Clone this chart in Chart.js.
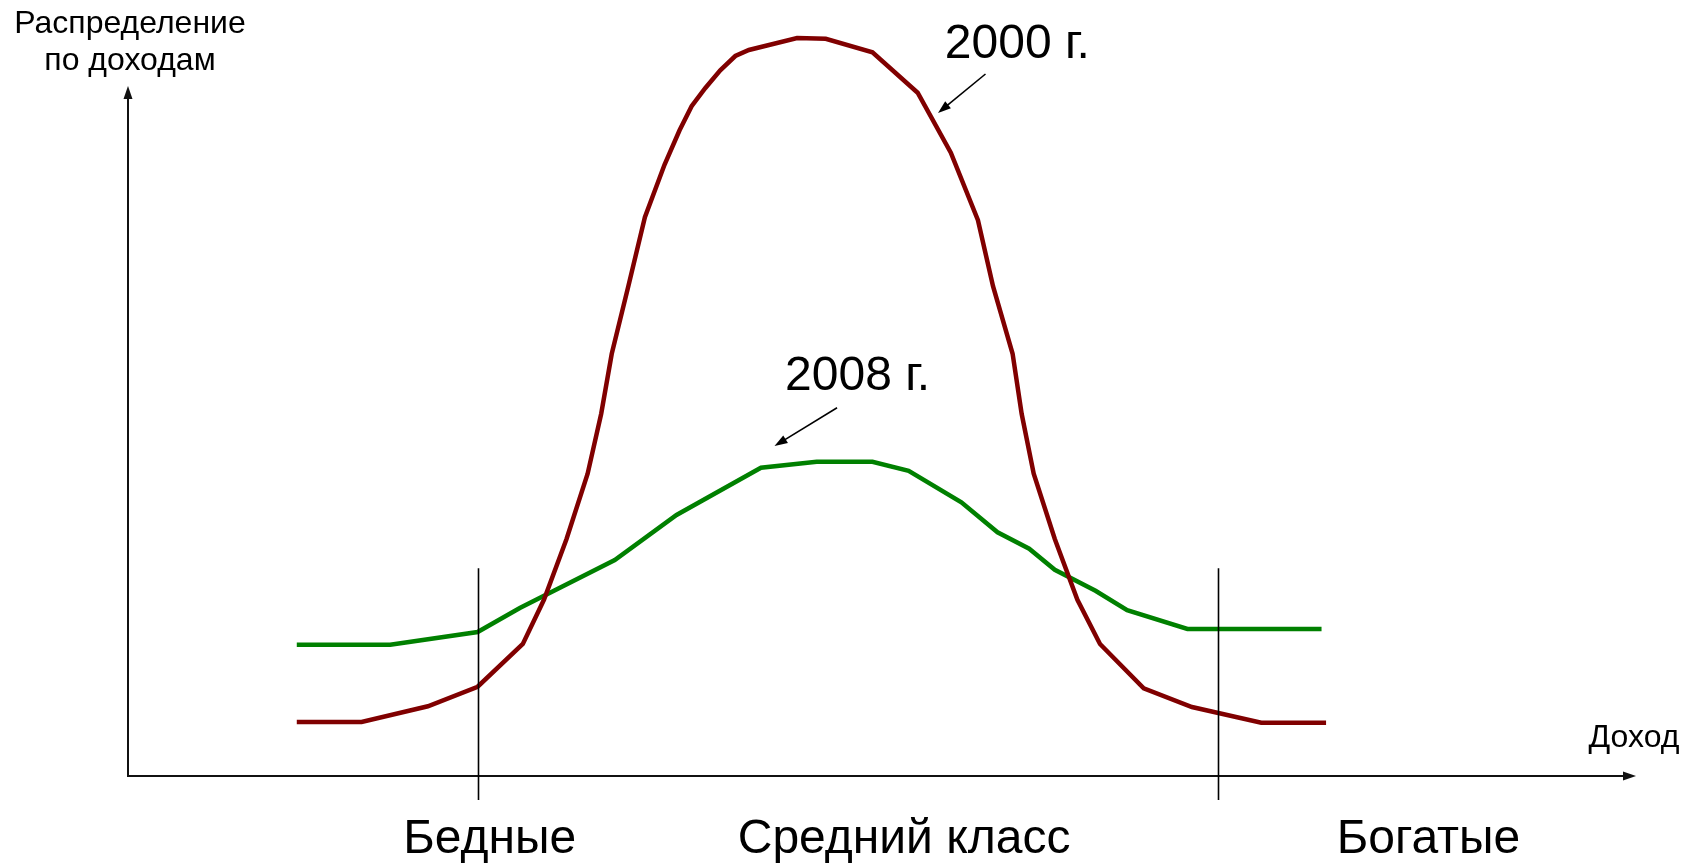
<!DOCTYPE html>
<html lang="ru">
<head>
    <meta charset="UTF-8">
    <title>Распределение по доходам</title>
    <style>
        body {
            margin: 0;
            background-color: #fff;
        }
        canvas {
            display: block;
        }
    </style>
</head>
<body>
    <canvas id="incomeChart" width="1698" height="865"></canvas>

    <script src="https://cdn.jsdelivr.net/npm/chart.js"></script>
    <script>
        // Доход (ось X, условные единицы 0..100) и доля населения (ось Y, 0..100)
        const income2000 = [11.2, 15.5, 19.9, 23.2, 26.2, 27.6, 29.1, 30.5, 31.4, 32.1, 33.2, 34.3, 35.6, 36.6, 37.4, 38.3,
            39.3, 40.3, 41.2, 44.4, 46.3, 49.4, 52.4, 54.6, 56.4, 57.4, 58.7, 59.3, 60.1, 61.5, 63.0, 64.5, 67.4, 70.6, 75.2, 79.5];
        const share2000 = [7.2, 7.2, 9.3, 11.9, 17.6, 23.5, 31.6, 40.3, 48.3, 56.3, 65.3, 74.5, 81.5, 86.1, 89.3, 91.7,
            94.1, 96.0, 96.8, 98.4, 98.3, 96.5, 91.1, 83.1, 74.1, 65.3, 56.3, 48.3, 40.3, 31.6, 23.5, 17.6, 11.7, 9.2, 7.1, 7.1];

        const income2008 = [11.2, 17.4, 23.2, 26.0, 32.3, 36.4, 42.0, 45.7, 49.4, 51.8, 55.3, 57.7, 59.8, 61.5, 64.2, 66.3, 70.3, 79.2];
        const share2008 = [17.5, 17.5, 19.2, 22.4, 28.8, 34.8, 41.1, 41.9, 41.9, 40.7, 36.5, 32.5, 30.3, 27.5, 24.7, 22.1, 19.6, 19.6];

        const yearLabels = ["2000 г.", "2008 г."];
        const groupLabels = ["Бедные", "Средний класс", "Богатые"];
        const groupCenters = [24.0, 51.5, 86.3];   // центры подписей групп по оси X
        const groupBorders = [23.2, 72.3];         // границы групп по оси X

        const FONT = '"Liberation Sans", Arial, sans-serif';

        function toPoints(xs, ys) {
            return xs.map((x, i) => ({ x: x, y: ys[i] }));
        }

        // Стрелка из (x1,y1) в (x2,y2)
        function arrow(ctx, x1, y1, x2, y2, width, headLen, headHalf) {
            const a = Math.atan2(y2 - y1, x2 - x1);
            ctx.lineWidth = width;
            ctx.beginPath();
            ctx.moveTo(x1, y1);
            ctx.lineTo(x2 - Math.cos(a) * headLen * 0.8, y2 - Math.sin(a) * headLen * 0.8);
            ctx.stroke();
            ctx.beginPath();
            ctx.moveTo(x2, y2);
            ctx.lineTo(x2 - headLen * Math.cos(a) + headHalf * Math.sin(a), y2 - headLen * Math.sin(a) - headHalf * Math.cos(a));
            ctx.lineTo(x2 - headLen * Math.cos(a) - headHalf * Math.sin(a), y2 - headLen * Math.sin(a) + headHalf * Math.cos(a));
            ctx.closePath();
            ctx.fill();
        }

        // Оси, границы групп, подписи
        const decorPlugin = {
            id: "decor",
            beforeDatasetsDraw(chart) {
                const ctx = chart.ctx;
                const xs = chart.scales.x, ys = chart.scales.y;
                const x0 = xs.getPixelForValue(0), y0 = ys.getPixelForValue(0);
                ctx.save();
                ctx.strokeStyle = "#111";
                ctx.fillStyle = "#111";
                // ось Y
                arrow(ctx, x0, y0 + 1, x0, 86, 2, 13, 4.5);
                // ось X
                arrow(ctx, x0 - 1, y0, xs.right + 1, y0, 2, 13, 4.5);
                ctx.restore();
            },
            afterDraw(chart) {
                const ctx = chart.ctx;
                const xs = chart.scales.x, ys = chart.scales.y;
                const y0 = ys.getPixelForValue(0);
                ctx.save();
                // границы групп
                ctx.strokeStyle = "#000";
                ctx.lineWidth = 1.6;
                groupBorders.forEach(v => {
                    const px = Math.round(xs.getPixelForValue(v)) + 0.5;
                    ctx.beginPath();
                    ctx.moveTo(px, ys.getPixelForValue(27.7));
                    ctx.lineTo(px, y0 + 24);
                    ctx.stroke();
                });

                ctx.fillStyle = "#000";
                ctx.textBaseline = "alphabetic";

                // подпись оси Y
                ctx.font = "32px " + FONT;
                ctx.textAlign = "center";
                ctx.fillText("Распределение", 130, 33);
                ctx.fillText("по доходам", 130, 70);
                // подпись оси X
                ctx.fillText("Доход", 1634, 747);

                // подписи групп
                ctx.font = "48px " + FONT;
                groupLabels.forEach((t, i) => {
                    ctx.fillText(t, xs.getPixelForValue(groupCenters[i]), 853);
                });

                // годы и стрелки к линиям
                ctx.textAlign = "left";
                ctx.fillText(yearLabels[0], xs.getPixelForValue(54.2), ys.getPixelForValue(95.7));
                ctx.fillText(yearLabels[1], xs.getPixelForValue(43.6), ys.getPixelForValue(51.5));
                ctx.strokeStyle = "#000";
                ctx.fillStyle = "#000";
                arrow(ctx, xs.getPixelForValue(56.9), ys.getPixelForValue(93.6),
                    xs.getPixelForValue(53.75), ys.getPixelForValue(88.4), 1.6, 13, 4.5);
                arrow(ctx, xs.getPixelForValue(47.05), ys.getPixelForValue(49.1),
                    xs.getPixelForValue(42.9), ys.getPixelForValue(44.0), 1.6, 13, 4.5);
                ctx.restore();
            }
        };

        new Chart(document.getElementById("incomeChart"), {
            type: "line",
            data: {
                datasets: [
                    {
                        label: yearLabels[0],
                        data: toPoints(income2000, share2000),
                        borderColor: "#800000",
                        borderWidth: 4.5,
                        pointRadius: 0,
                        tension: 0,
                        fill: false
                    },
                    {
                        label: yearLabels[1],
                        data: toPoints(income2008, share2008),
                        borderColor: "#008000",
                        borderWidth: 4.5,
                        pointRadius: 0,
                        tension: 0,
                        fill: false
                    }
                ]
            },
            options: {
                responsive: false,
                animation: false,
                devicePixelRatio: 1,
                layout: { padding: { left: 128, right: 63, top: 26, bottom: 89 } },
                plugins: {
                    legend: { display: false },
                    tooltip: { enabled: false }
                },
                scales: {
                    x: { type: "linear", min: 0, max: 100, display: false },
                    y: { min: 0, max: 100, display: false }
                }
            },
            plugins: [decorPlugin]
        });
    </script>
</body>
</html>
